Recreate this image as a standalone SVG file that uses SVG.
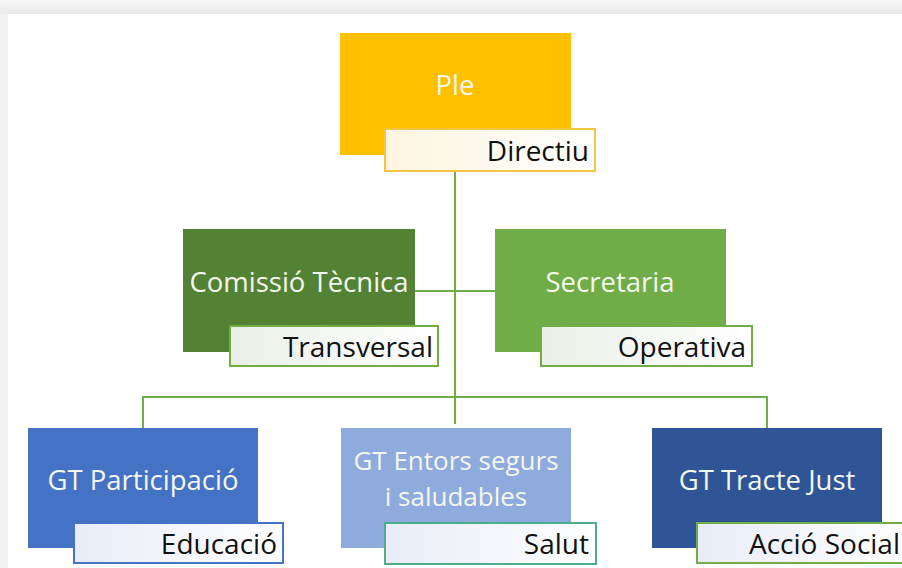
<svg xmlns="http://www.w3.org/2000/svg" width="902" height="568" viewBox="0 0 902 568">
  <defs>
    <linearGradient id="topband" x1="0" y1="0" x2="0" y2="1">
      <stop offset="0" stop-color="#f7f7f7"/>
      <stop offset="1" stop-color="#e9e9e9"/>
    </linearGradient>
    <linearGradient id="lblY" x1="0" y1="0" x2="1" y2="0">
      <stop offset="0" stop-color="#fdf5e0"/>
      <stop offset="1" stop-color="#ffffff"/>
    </linearGradient>
    <linearGradient id="lblG" x1="0" y1="0" x2="1" y2="0">
      <stop offset="0" stop-color="#e9efe7"/>
      <stop offset="1" stop-color="#ffffff"/>
    </linearGradient>
    <linearGradient id="lblB" x1="0" y1="0" x2="1" y2="0">
      <stop offset="0" stop-color="#e8ecf6"/>
      <stop offset="1" stop-color="#ffffff"/>
    </linearGradient>
  </defs>
  <style>
    .main { font-family: "Open Sans", "Liberation Sans", sans-serif; font-size: 27.5px; fill: #f4f7ee; text-anchor: middle; dominant-baseline: central; }
    .two { font-size: 26px; }
    .lbl { font-family: "Open Sans", "Liberation Sans", sans-serif; font-size: 28px; fill: #111111; text-anchor: end; dominant-baseline: central; }
    .lbox { stroke-width: 2; }
    .conn { stroke: #70ad47; stroke-width: 2; fill: none; }
  </style>
  <rect x="0" y="0" width="902" height="568" fill="#f2f2f2"/>
  <rect x="0" y="0" width="902" height="14" fill="url(#topband)"/>
  <rect x="8" y="14" width="894" height="554" fill="#ffffff"/>

  <g id="connectors">
    <line class="conn" x1="455" y1="171" x2="455" y2="424"/>
    <line class="conn" x1="415" y1="291" x2="495" y2="291"/>
    <polyline class="conn" points="143,428 143,397 767,397 767,428"/>
  </g>

  <g id="ple">
    <rect x="340" y="33" width="231" height="122" fill="#ffc000"/>
    <text class="main" x="455" y="84">Ple</text>
    <rect class="lbox" x="385" y="129" width="210" height="42" fill="url(#lblY)" stroke="#f2c443"/>
    <text class="lbl" x="589" y="150">Directiu</text>
  </g>

  <g id="comissio">
    <rect x="183" y="229" width="232" height="123" fill="#548235"/>
    <text class="main" x="299" y="281">Comissió Tècnica</text>
    <rect class="lbox" x="230" y="326" width="208" height="40" fill="url(#lblG)" stroke="#70ad47"/>
    <text class="lbl" x="433" y="346">Transversal</text>
  </g>

  <g id="secretaria">
    <rect x="495" y="229" width="231" height="123" fill="#70ad47"/>
    <text class="main" x="610" y="281">Secretaria</text>
    <rect class="lbox" x="541" y="326" width="211" height="40" fill="url(#lblG)" stroke="#70ad47"/>
    <text class="lbl" x="746" y="346">Operativa</text>
  </g>

  <g id="participacio">
    <rect x="28" y="428" width="230" height="120" fill="#4472c4"/>
    <text class="main" x="143" y="479">GT Participació</text>
    <rect class="lbox" x="74" y="523" width="209" height="40" fill="url(#lblB)" stroke="#4472c4"/>
    <text class="lbl" x="277" y="543">Educació</text>
  </g>

  <g id="entorns">
    <rect x="341" y="428" width="230" height="120" fill="#8faadc"/>
    <text class="main two" x="456" y="460">GT Entors segurs</text>
    <text class="main two" x="456" y="496">i saludables</text>
    <rect class="lbox" x="385" y="523" width="211" height="41" fill="url(#lblB)" stroke="#4bae8a"/>
    <text class="lbl" x="589" y="543">Salut</text>
  </g>

  <g id="tracte">
    <rect x="652" y="428" width="230" height="120" fill="#2f5597"/>
    <text class="main" x="767" y="479">GT Tracte Just</text>
    <rect class="lbox" x="697" y="523" width="215" height="40" fill="url(#lblB)" stroke="#70ad47"/>
    <text class="lbl" x="900" y="543">Acció Social</text>
  </g>
</svg>
